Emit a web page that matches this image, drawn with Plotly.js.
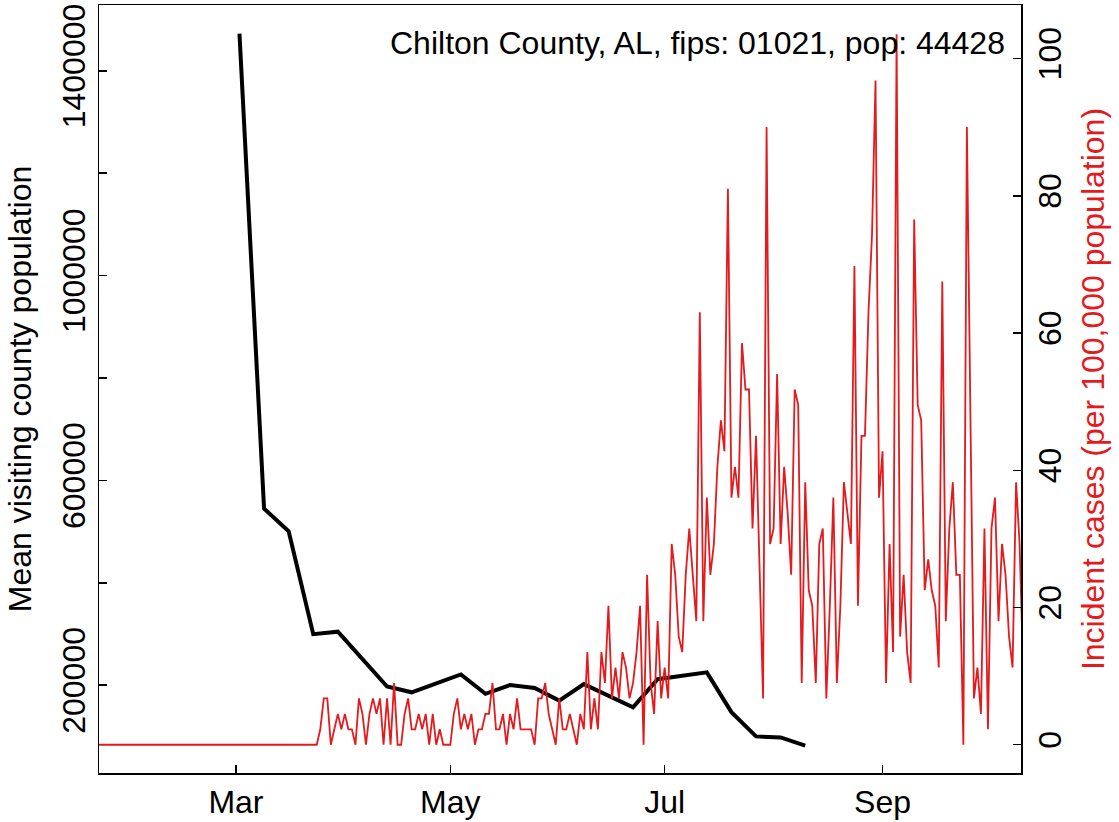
<!DOCTYPE html>
<html>
<head>
<meta charset="utf-8">
<script src="https://cdn.plot.ly/plotly-3.0.1.min.js"></script>
<style>
  html, body { margin: 0; padding: 0; background: #ffffff; }
  #chart { width: 1119px; height: 822px; }
</style>
</head>
<body>
<div id="chart"></div>
<script>
// ---- Mobility series (weekly, mean visiting county population) ----
const mobilityDates = [
  "2020-03-02", "2020-03-09", "2020-03-16", "2020-03-23", "2020-03-30",
  "2020-04-13", "2020-04-20", "2020-05-04", "2020-05-11", "2020-05-18",
  "2020-05-25", "2020-06-01", "2020-06-08", "2020-06-22", "2020-06-29",
  "2020-07-06", "2020-07-13", "2020-07-20", "2020-07-27", "2020-08-03",
  "2020-08-10"
];
const mobilityValues = [
  1472700, 544900, 500400, 299600, 304500,
  197500, 186100, 221100, 183200, 200400,
  194500, 169900, 202100, 156800, 211700,
  219100, 225000, 147300, 100000, 98000,
  82000
];

// ---- Daily incident cases per 100,000 population (starting 2020-01-22) ----
const incidenceStart = "2020-01-22";
const incidenceValues = [
  0,0,0,0,0,0,0,0,0,0, 0,0,0,0,0,0,0,0,0,0,
  0,0,0,0,0,0,0,0,0,0, 0,0,0,0,0,0,0,0,0,0,
  0,0,0,0,0,0,0,0,0,0, 0,0,0,0,0,0,0,0,0,0,
  0,0,0,
  2.25,6.75,6.75,0,2.25,4.5,2.25,4.5,2.25,2.25,
  0,6.75,4.5,0,4.5,6.75,4.5,6.75,0,6.75,
  0,9,0,0,4.5,6.75,2.25,2.25,4.5,2.25,
  4.5,0,4.5,0,2.25,0,0,0,4.5,6.75,
  2.25,4.5,2.25,4.5,0,2.25,2.25,4.5,4.5,9,
  2.25,2.25,4.5,0,4.5,2.25,6.75,2.25,2.25,2.25,
  2.25,0,6.75,6.75,9,4.5,2.25,0,6.75,2.25,
  2.25,4.5,2.25,0,4.5,2.25,13.5,2.25,6.75,2.25,
  13.5,9,20.26,6.75,11.25,6.75,13.5,11.25,6.75,9,
  13.5,20.26,0,24.76,9,4.5,18.01,6.75,11.25,6.75,
  29.26,24.76,15.76,13.5,24.76,31.51,24.76,18.01,63.02,18.01,
  36.01,24.76,29.26,40.51,47.27,42.77,81.03,36.01,40.51,36.01,
  58.52,51.77,51.77,31.51,45.02,27.01,6.75,90.03,29.26,31.51,
  54.02,29.26,40.51,33.76,24.76,51.77,49.52,9,38.26,22.51,
  20.26,9,29.26,31.51,6.75,20.26,36.01,9,20.26,38.26,
  33.76,29.26,69.78,20.26,45.02,45.02,63.02,74.28,96.79,36.01,
  42.77,9,29.26,13.5,103.54,15.76,24.76,13.5,9,76.53,
  49.52,47.27,22.51,27.01,22.51,20.26,11.25,67.52,18.01,31.51,
  38.26,24.76,24.76,0,90.03,47.27,6.75,11.25,4.5,31.51,
  2.25,31.51,36.01,18.01,29.26,24.76,15.76,11.25,38.26,29.26,11.25
];

// ---- Tick labels ----
const monthTickDates = ["2020-03-01", "2020-05-01", "2020-07-01", "2020-09-01"];
const monthTickLabels = ["Mar", "May", "Jul", "Sep"];
const leftTickVals = [200000, 400000, 600000, 800000, 1000000, 1200000, 1400000];
const leftTickLabels = ["200000", "", "600000", "", "1000000", "", "1400000"];
const rightTickVals = [0, 20, 40, 60, 80, 100];

const countyLabel = "Chilton County, AL, fips: 01021, pop: 44428";
const leftTitle = "Mean visiting county population";
const rightTitle = "Incident cases (per 100,000 population)";

// consecutive daily dates for the incidence series
const incidenceDates = [];
const t0 = Date.parse(incidenceStart + "T00:00:00Z");
for (let i = 0; i < incidenceValues.length; i++) {
  incidenceDates.push(new Date(t0 + i * 86400000).toISOString().slice(0, 10));
}

const RED = "#E41A1C";
const FONT = "Liberation Sans, Arial, Helvetica, sans-serif";
const FS = 32;

const traces = [
  {
    x: mobilityDates, y: mobilityValues, type: "scatter", mode: "lines",
    line: { color: "#000000", width: 4 }, yaxis: "y", xaxis: "x",
    hoverinfo: "skip"
  },
  {
    x: incidenceDates, y: incidenceValues, type: "scatter", mode: "lines",
    line: { color: RED, width: 1.8 }, yaxis: "y2", xaxis: "x",
    hoverinfo: "skip"
  }
];

const layout = {
  width: 1119, height: 822,
  margin: { l: 99, r: 98, t: 5, b: 49, pad: 0 },
  paper_bgcolor: "#ffffff", plot_bgcolor: "#ffffff",
  showlegend: false,
  font: { family: FONT, size: FS, color: "#000000" },
  xaxis: {
    type: "date",
    range: ["2020-01-22 00:43", "2020-10-10 09:36"],
    tickmode: "array", tickvals: monthTickDates, ticktext: monthTickLabels,
    ticks: "inside", ticklen: 8, tickwidth: 1.5, tickcolor: "#000",
    showline: true, linecolor: "#000", linewidth: 1.5, mirror: true,
    showgrid: false, zeroline: false,
    tickfont: { family: FONT, size: FS, color: "#000" },
    ticklabelstandoff: 0
  },
  yaxis: {
    range: [28500, 1528500],
    tickmode: "array", tickvals: leftTickVals, ticktext: leftTickLabels,
    tickangle: -90,
    ticks: "inside", ticklen: 8, tickwidth: 1.5, tickcolor: "#000",
    showline: true, linecolor: "#000", linewidth: 1.5,
    showgrid: false, zeroline: false,
    tickfont: { family: FONT, size: FS, color: "#000" },
    title: { text: leftTitle, font: { family: FONT, size: FS, color: "#000" }, standoff: 14 },
    automargin: false
  },
  yaxis2: {
    overlaying: "y", side: "right",
    range: [-4.12, 107.8],
    tickmode: "array", tickvals: rightTickVals,
    tickangle: -90,
    ticks: "inside", ticklen: 8, tickwidth: 1.5, tickcolor: "#000",
    showline: true, linecolor: "#000", linewidth: 1.5,
    showgrid: false, zeroline: false,
    tickfont: { family: FONT, size: FS, color: "#000" },
    title: { text: rightTitle, font: { family: FONT, size: FS, color: RED }, standoff: 14 },
    automargin: false
  },
  annotations: [
    {
      text: countyLabel, xref: "paper", yref: "paper",
      x: 0.9852, y: 0.9508, xanchor: "right", yanchor: "middle",
      showarrow: false, font: { family: FONT, size: FS, color: "#000" }
    }
  ]
};

Plotly.newPlot("chart", traces, layout, { displayModeBar: false, staticPlot: true });
</script>
</body>
</html>
